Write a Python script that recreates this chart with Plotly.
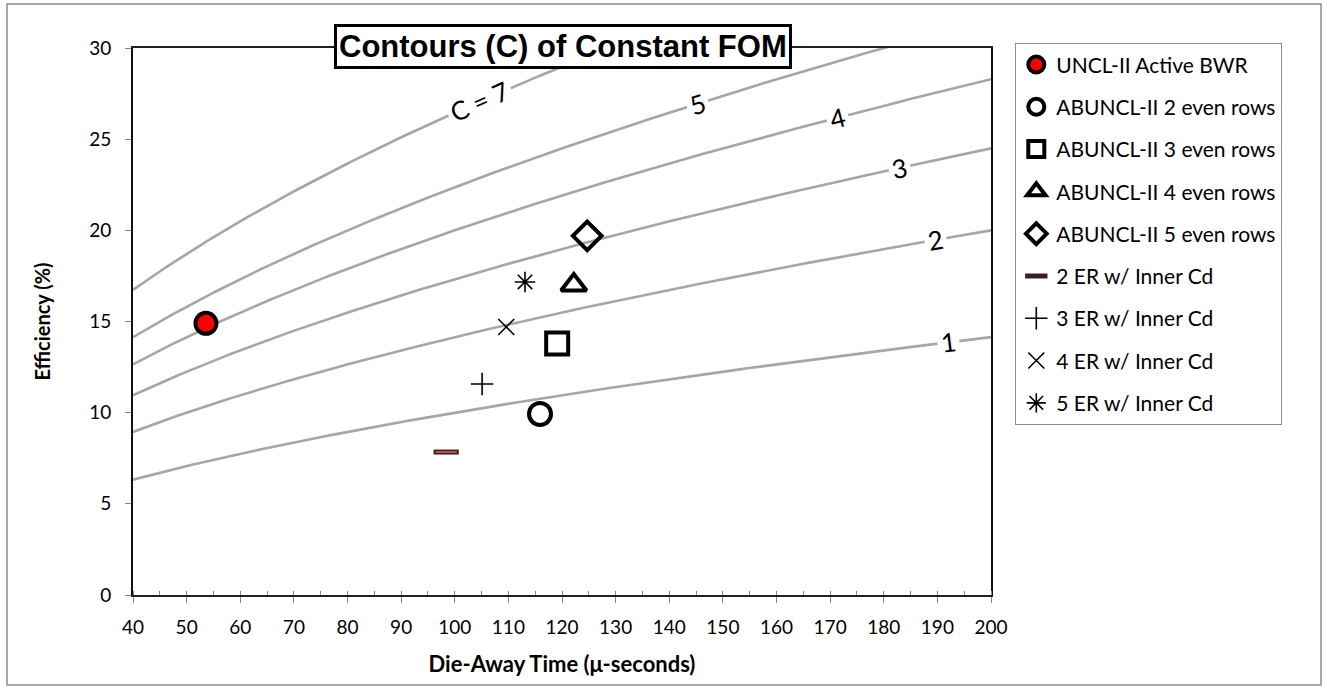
import numpy as np
import plotly.graph_objects as go

# ---------------- data ----------------
contour_levels = [1, 2, 3, 4, 5, 7]
contour_labels = ["1", "2", "3", "4", "5", "C=7"]
contour_label_x = [192.0, 189.6, 183.0, 171.3, 145.2, 104.7]

series_names = [
    "UNCL-II Active BWR",
    "ABUNCL-II 2 even rows",
    "ABUNCL-II 3 even rows",
    "ABUNCL-II 4 even rows",
    "ABUNCL-II 5 even rows",
    "2 ER w/ Inner Cd",
    "3 ER w/ Inner Cd",
    "4 ER w/ Inner Cd",
    "5 ER w/ Inner Cd",
]
die_away = [53.6, 115.9, 119.1, 122.2, 124.7, 98.4, 105.1, 109.6, 113.1]
efficiency = [14.9, 9.93, 13.8, 17.0, 19.7, 7.84, 11.57, 14.7, 17.17]

x_ticks = list(range(40, 201, 10))
y_ticks = list(range(0, 31, 5))

# ---------------- layout constants ----------------
W, H = 1327, 689
ML, MR, MT, MB = 133, 336, 48, 94
PW, PH = W - ML - MR, H - MT - MB
XR, YR = (40, 200), (0, 30)
FONT = "Lato"

fig = go.Figure()

# contour curves  C = eff^2 / tau
xg = np.linspace(XR[0], XR[1], 400)
for c in contour_levels:
    fig.add_trace(go.Scatter(x=xg, y=np.sqrt(c * xg), mode="lines",
                             line=dict(color="#A6A6A6", width=2.6),
                             showlegend=False, hoverinfo="skip"))

styles = [
    dict(symbol="circle", size=21, color="#FF0000", line=dict(color="black", width=4)),
    dict(symbol="circle-open", size=22, color="black", line=dict(color="black", width=4)),
    dict(symbol="square-open", size=22, color="black", line=dict(color="black", width=4)),
    dict(symbol="triangle-up-open", size=22, color="black", line=dict(color="black", width=4)),
    dict(symbol="diamond-open", size=22, color="black", line=dict(color="black", width=4)),
    dict(symbol="line-ew", size=18, color="#3A2020", line=dict(color="#3A2020", width=5)),
    dict(symbol="cross-thin", size=16, color="black", line=dict(color="black", width=1.6)),
    dict(symbol="x-thin", size=16, color="black", line=dict(color="black", width=1.6)),
    dict(symbol="asterisk", size=17, color="black", line=dict(color="black", width=1.6)),
]
for i, (name, xv, yv, st) in enumerate(zip(series_names, die_away, efficiency, styles)):
    fig.add_trace(go.Scatter(x=[xv], y=[yv], mode="markers", name=name,
                             marker=st, legendgroup=f"g{i}"))
    if i == 5:
        fig.add_trace(go.Scatter(x=[xv], y=[yv], mode="markers", showlegend=False,
                                 marker=dict(symbol="line-ew", size=15, color="#C0504D",
                                             line=dict(color="#C0504D", width=2)),
                                 legendgroup=f"g{i}"))

# contour labels
sx = PW / (XR[1] - XR[0])
sy = PH / (YR[1] - YR[0])
for c, lab, lx in zip(contour_levels, contour_labels, contour_label_x):
    ly = np.sqrt(c * lx)
    slope = (ly / (2 * lx)) * sy / sx
    ang = -np.degrees(np.arctan(slope))
    fig.add_annotation(x=lx, y=ly, text=lab.replace("=", " = ") if "=" in lab else lab,
                       showarrow=False, textangle=ang, bgcolor="white", borderpad=3,
                       font=dict(family=FONT, size=26, color="black"))

# title box
fig.add_annotation(xref="paper", yref="paper", x=(563 - ML) / PW, y=(H - MB - 46) / PH,
                   text="<b>Contours (C) of Constant FOM</b>", showarrow=False,
                   font=dict(family="Liberation Sans", size=31, color="black"),
                   bgcolor="white", bordercolor="black", borderwidth=3, borderpad=2,
                   xanchor="center", yanchor="middle")

# outer chart border
fig.add_shape(type="rect", xref="paper", yref="paper",
              x0=(7 - ML) / PW, x1=(1321 - ML) / PW,
              y0=(H - MB - 685) / PH, y1=(H - MB - 4) / PH,
              line=dict(color="#8C8C8C", width=1.5), fillcolor="rgba(0,0,0,0)", layer="below")

fig.update_layout(
    width=W, height=H,
    margin=dict(l=ML, r=MR, t=MT, b=MB),
    paper_bgcolor="white", plot_bgcolor="white",
    font=dict(family=FONT, size=19, color="black"),
    showlegend=True,
    legend=dict(x=(1015 - ML) / PW, y=(H - MB - 43) / PH, xanchor="left", yanchor="top",
                bordercolor="#8C8C8C", borderwidth=1.3, bgcolor="white",
                font=dict(family=FONT, size=21, color="black"),
                tracegroupgap=12, traceorder="grouped", itemwidth=30,
                maxheight=600),
)
fig.update_xaxes(range=list(XR), tickvals=x_ticks, ticktext=[str(v) for v in x_ticks],
                 ticks="outside", ticklen=6, tickcolor="#888", tickwidth=1.3,
                 ticklabelstandoff=8,
                 minor=dict(ticks="inside", ticklen=4, dtick=5, tickcolor="#888"),
                 showline=True, linecolor="#222", linewidth=2, mirror=True,
                 showgrid=False, zeroline=False,
                 tickfont=dict(family=FONT, size=19),
                 title=dict(text="<b>Die-Away Time (μ-seconds)</b>", standoff=20,
                            font=dict(family=FONT, size=22)))
fig.update_yaxes(range=list(YR), tickvals=y_ticks, ticktext=[str(v) for v in y_ticks],
                 ticks="outside", ticklen=6, tickcolor="#888", tickwidth=1.3,
                 ticklabelstandoff=10,
                 showline=True, linecolor="#111", linewidth=2, mirror=True,
                 showgrid=False, zeroline=False,
                 tickfont=dict(family=FONT, size=19),
                 title=dict(text="<b>Efficiency (%)</b>", standoff=33,
                            font=dict(family=FONT, size=20)))

fig.write_html("out.html")
